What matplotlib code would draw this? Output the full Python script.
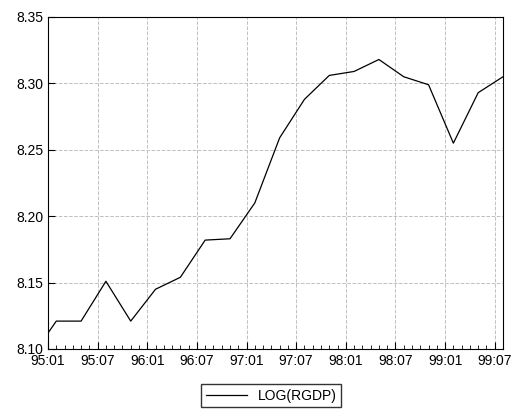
import matplotlib.pyplot as plt
import numpy as np

plt.rcParams['font.family'] = ['Liberation Sans', 'DejaVu Sans']

months = [0, 1, 4, 7, 10, 13, 16, 19, 22, 25, 28, 31, 34, 37, 40, 43, 46, 49, 52, 55]
log_rgdp = [8.112, 8.121, 8.121, 8.151, 8.121, 8.145, 8.154, 8.182, 8.183, 8.210,
            8.259, 8.288, 8.306, 8.309, 8.318, 8.305, 8.299, 8.255, 8.293, 8.305]
tick_labels = ['95:01', '95:07', '96:01', '96:07', '97:01', '97:07',
               '98:01', '98:07', '99:01', '99:07']

fig = plt.figure(figsize=(5.12, 4.2), dpi=100)
ax = fig.add_axes([48/512, 1-349/420, 455/512, 332/420])
ax.plot(months, log_rgdp, color='black', lw=0.9, label='LOG(RGDP)')
ax.set_xlim(0, 55)
ax.set_ylim(8.10, 8.35)
ax.set_xticks(np.arange(0, 55, 6))
ax.set_xticklabels(tick_labels)
ax.set_xticks(np.arange(0, 56, 1), minor=True)
ax.set_yticks(np.arange(8.10, 8.351, 0.05))
ax.set_yticklabels(['%.2f' % v for v in np.arange(8.10, 8.351, 0.05)])
ax.tick_params(direction='in', labelsize=10, length=5)
ax.tick_params(axis='x', which='minor', direction='in', length=3)
ax.grid(True, color='#c0c0c0', ls='--', lw=0.7)
for s in ax.spines.values():
    s.set_linewidth(0.8)
fig.legend(loc='lower center', bbox_to_anchor=(0.53, 0.015), fancybox=False,
           edgecolor='black', fontsize=10, handlelength=3, borderpad=0.3)
fig.savefig('out.png', dpi=100)
